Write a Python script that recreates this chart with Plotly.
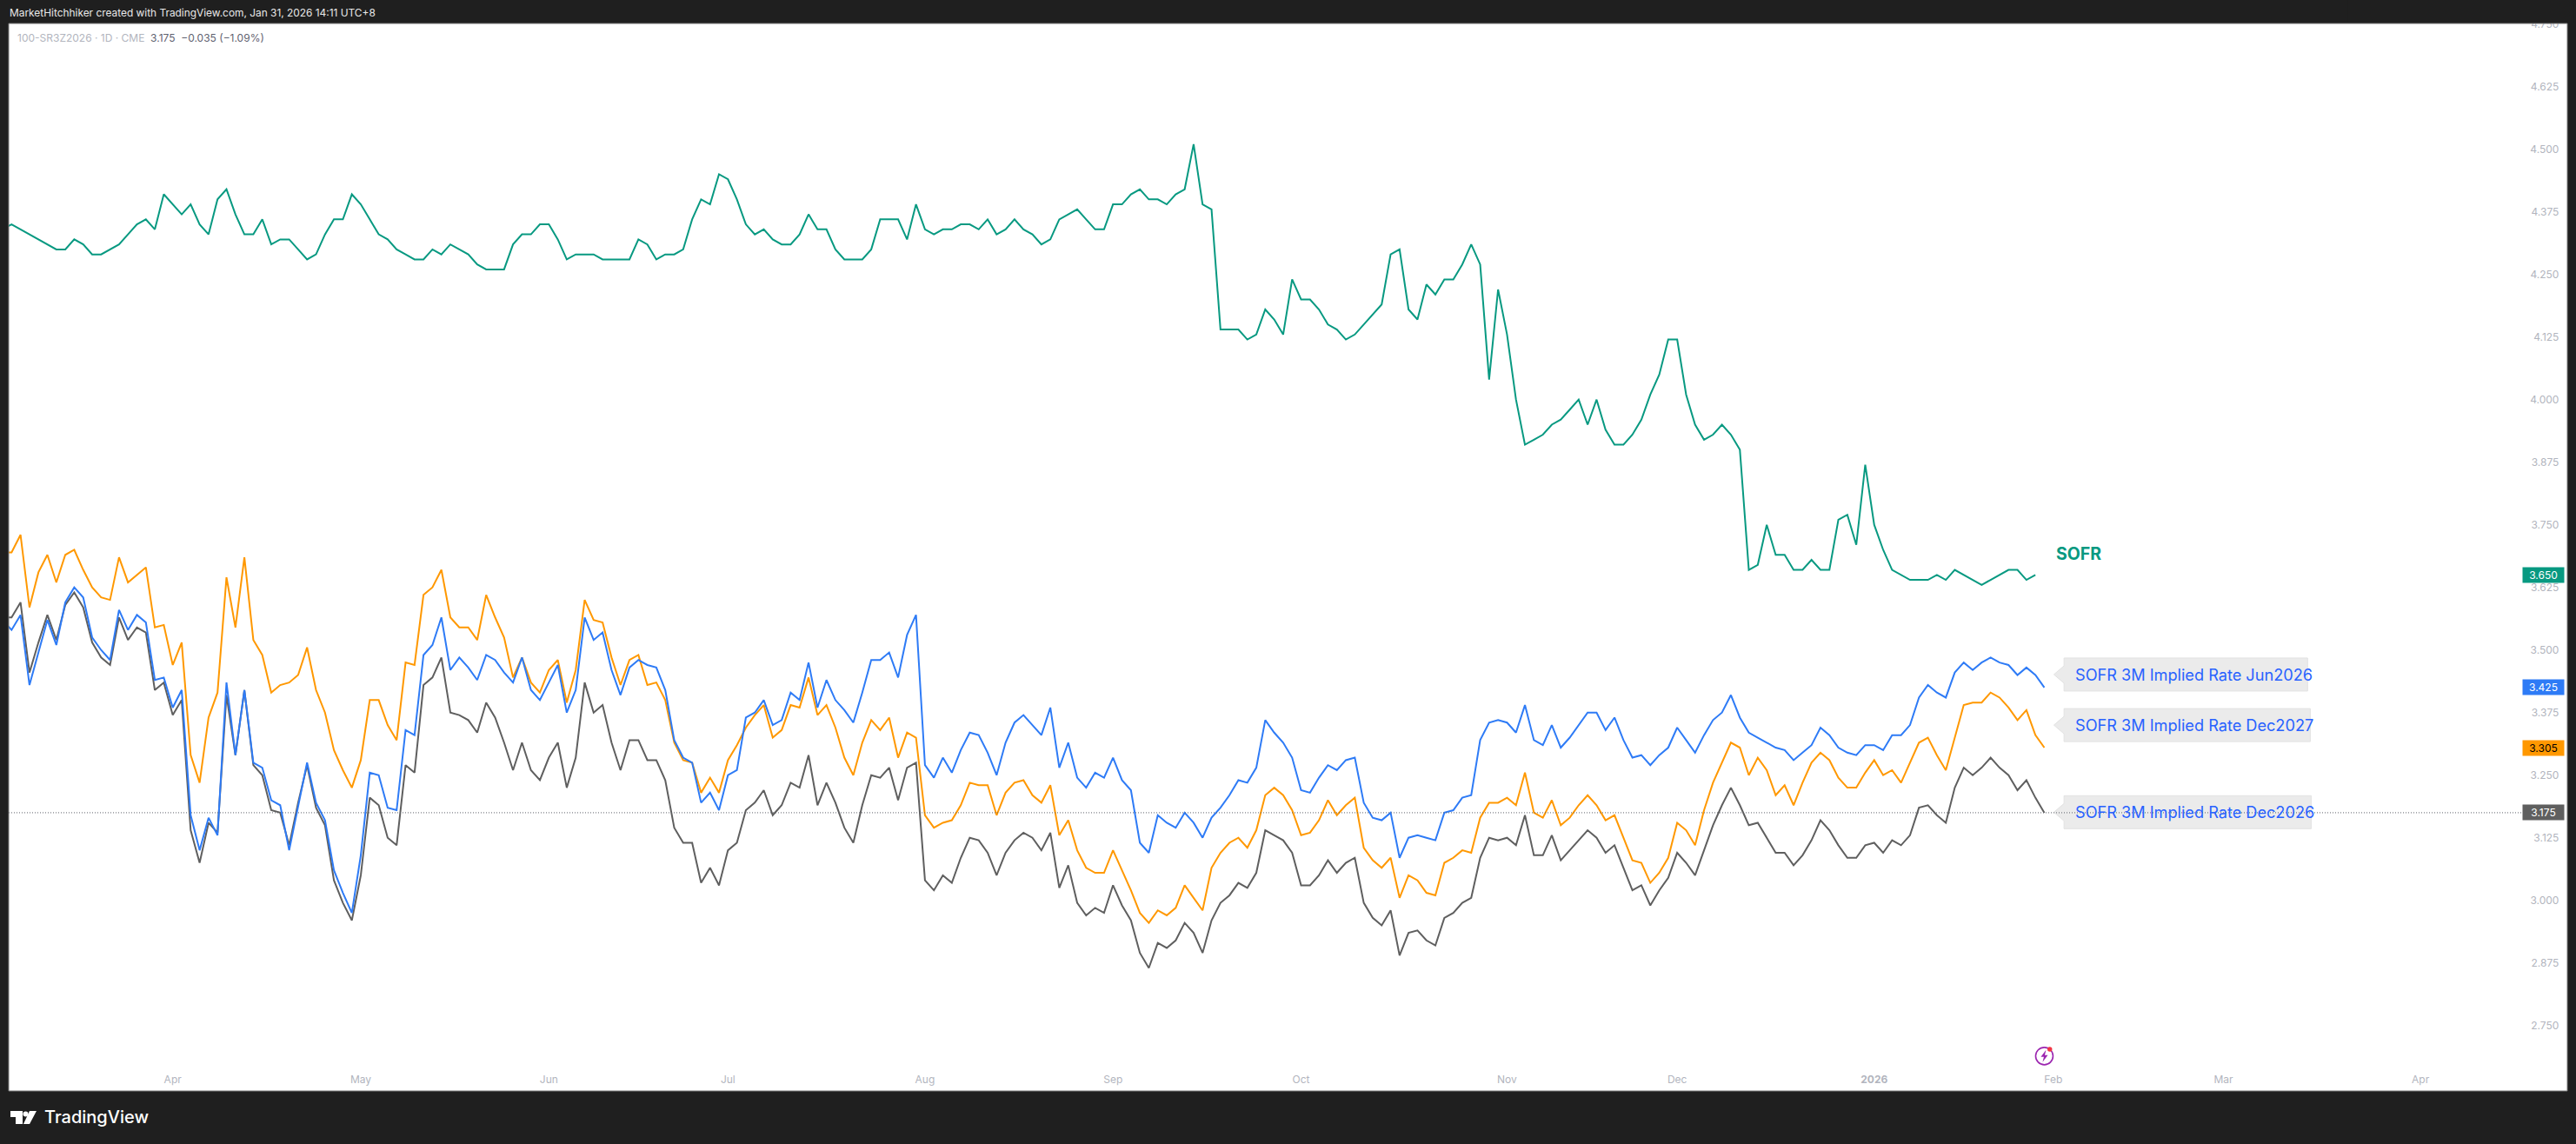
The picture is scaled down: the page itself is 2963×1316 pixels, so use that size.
import pandas as pd
import plotly.graph_objects as go

# ---------- data ----------
jun2026 = [3.56,3.54,3.57,3.43,3.495,3.56,3.51,3.595,3.625,3.605,3.525,3.50,3.48,3.58,3.54,3.57,3.555,3.44,3.445,3.385,3.42,
3.17,3.10,3.165,3.13,3.435,3.29,3.42,3.275,3.265,3.20,3.19,3.10,3.19,3.275,3.195,3.16,3.06,3.015,2.975,3.09,
3.255,3.25,3.185,3.18,3.34,3.33,3.49,3.51,3.565,3.46,3.485,3.465,3.44,3.49,3.48,3.455,3.435,3.485,3.42,3.40,
3.435,3.47,3.375,3.42,3.565,3.52,3.535,3.46,3.41,3.465,3.48,3.47,3.465,3.42,3.32,3.285,3.275,
3.195,3.215,3.18,3.25,3.26,3.365,3.375,3.40,3.35,3.36,3.415,3.40,3.475,3.385,3.44,3.40,3.38,3.355,3.415,3.48,
3.48,3.495,3.445,3.53,3.57,3.27,3.245,3.285,3.255,3.30,3.335,3.33,3.295,3.25,3.315,3.355,3.37,3.35,3.33,3.385,
3.265,3.315,3.245,3.225,3.255,3.245,3.285,3.24,3.22,3.115,3.095,3.17,3.155,3.145,3.175,3.155,3.125,3.165,3.185,3.21,
3.24,3.235,3.265,3.36,3.335,3.315,3.285,3.22,3.215,3.245,3.27,3.26,3.28,3.285,3.195,3.165,3.16,3.175,
3.085,3.125,3.13,3.125,3.12,3.175,3.18,3.205,3.21,3.32,3.355,3.36,3.355,3.335,3.39,3.32,3.31,3.35,3.305,3.325,
3.35,3.375,3.375,3.34,3.365,3.32,3.285,3.29,3.27,3.29,3.305,3.345,3.32,3.295,3.33,3.36,3.375,3.41,3.365,3.335,
3.325,3.315,3.305,3.30,3.28,3.295,3.31,3.345,3.33,3.305,3.295,3.29,3.31,3.31,3.30,3.33,3.33,3.35,3.405,3.43,
3.415,3.405,3.455,3.475,3.46,3.475,3.485,3.475,3.47,3.45,3.465,3.45,3.425]

dec2027 = [3.695,3.695,3.73,3.585,3.655,3.69,3.635,3.69,3.70,3.66,3.625,3.605,3.60,3.685,3.635,3.65,3.665,3.545,3.55,3.47,3.515,
3.29,3.235,3.365,3.415,3.645,3.545,3.685,3.52,3.49,3.415,3.43,3.435,3.45,3.505,3.42,3.375,3.30,3.26,3.225,3.28,
3.40,3.40,3.35,3.32,3.475,3.47,3.61,3.625,3.66,3.565,3.545,3.545,3.52,3.61,3.565,3.525,3.445,3.485,3.435,3.415,
3.46,3.48,3.395,3.46,3.60,3.56,3.555,3.485,3.43,3.48,3.49,3.43,3.435,3.40,3.315,3.28,3.275,
3.215,3.245,3.215,3.28,3.31,3.345,3.37,3.39,3.325,3.34,3.39,3.385,3.445,3.37,3.39,3.345,3.285,3.25,3.315,3.36,
3.34,3.365,3.285,3.335,3.325,3.17,3.145,3.155,3.16,3.19,3.235,3.23,3.23,3.17,3.215,3.235,3.24,3.21,3.195,3.23,
3.13,3.16,3.10,3.065,3.055,3.055,3.10,3.06,3.02,2.975,2.955,2.98,2.97,2.985,3.03,3.005,2.98,3.065,3.095,3.115,
3.125,3.105,3.14,3.21,3.225,3.21,3.18,3.13,3.135,3.16,3.20,3.17,3.19,3.205,3.105,3.08,3.065,3.085,
3.005,3.05,3.04,3.015,3.01,3.075,3.085,3.10,3.095,3.165,3.195,3.195,3.205,3.19,3.255,3.175,3.165,3.20,3.15,3.165,
3.19,3.21,3.19,3.16,3.17,3.125,3.08,3.075,3.035,3.055,3.085,3.155,3.14,3.11,3.18,3.235,3.275,3.315,3.305,3.25,
3.285,3.26,3.21,3.23,3.19,3.235,3.275,3.295,3.28,3.245,3.225,3.225,3.255,3.28,3.25,3.26,3.235,3.275,3.315,3.325,
3.29,3.26,3.325,3.39,3.395,3.395,3.415,3.405,3.385,3.36,3.38,3.33,3.305]

dec2026 = [3.565,3.565,3.595,3.455,3.515,3.57,3.52,3.59,3.615,3.585,3.515,3.485,3.47,3.565,3.52,3.545,3.535,3.42,3.435,3.37,3.40,
3.14,3.075,3.155,3.135,3.41,3.29,3.42,3.27,3.25,3.18,3.175,3.11,3.195,3.27,3.185,3.15,3.04,2.995,2.96,3.05,
3.205,3.19,3.125,3.11,3.27,3.255,3.43,3.445,3.485,3.375,3.37,3.36,3.335,3.395,3.365,3.315,3.26,3.315,3.26,3.24,
3.285,3.315,3.225,3.285,3.435,3.375,3.39,3.315,3.26,3.32,3.32,3.28,3.28,3.24,3.145,3.115,3.115,
3.035,3.065,3.03,3.10,3.115,3.18,3.195,3.22,3.17,3.19,3.235,3.225,3.29,3.19,3.235,3.195,3.145,3.115,3.19,3.25,
3.245,3.265,3.20,3.265,3.275,3.04,3.02,3.05,3.035,3.085,3.125,3.12,3.095,3.05,3.095,3.12,3.135,3.125,3.10,3.135,
3.025,3.07,2.995,2.97,2.985,2.975,3.03,2.99,2.96,2.895,2.865,2.915,2.905,2.92,2.955,2.935,2.895,2.96,2.995,3.01,
3.035,3.025,3.055,3.14,3.13,3.12,3.095,3.03,3.03,3.05,3.08,3.055,3.075,3.085,2.995,2.965,2.95,2.98,
2.89,2.935,2.94,2.92,2.91,2.965,2.975,2.995,3.005,3.085,3.125,3.12,3.125,3.11,3.17,3.09,3.09,3.13,3.08,3.10,
3.12,3.14,3.125,3.095,3.11,3.065,3.02,3.03,2.99,3.02,3.045,3.095,3.075,3.05,3.10,3.15,3.19,3.225,3.19,3.15,
3.155,3.125,3.095,3.095,3.07,3.09,3.12,3.16,3.14,3.11,3.085,3.085,3.11,3.115,3.095,3.12,3.11,3.13,3.185,3.19,
3.17,3.155,3.225,3.265,3.25,3.265,3.285,3.265,3.25,3.22,3.24,3.205,3.175]

sofr = [4.34,4.35,4.34,4.33,4.32,4.31,4.30,4.30,4.32,4.31,4.29,4.29,4.30,4.31,4.33,4.35,4.36,4.34,4.41,4.39,4.37,4.39,4.35,4.33,4.40,4.42,
4.37,4.33,4.33,4.36,4.31,4.32,4.32,4.30,4.28,4.29,4.33,4.36,4.36,4.41,4.39,4.36,4.33,4.32,4.30,4.29,4.28,4.28,4.30,4.29,4.31,
4.30,4.29,4.27,4.26,4.26,4.26,4.31,4.33,4.33,4.35,4.35,4.32,4.28,4.29,4.29,4.29,4.28,4.28,4.28,4.28,4.32,4.31,4.28,4.29,4.29,
4.30,4.36,4.40,4.39,4.45,4.44,4.40,4.35,4.33,4.34,4.32,4.31,4.31,4.33,4.37,4.34,4.34,4.30,4.28,4.28,4.28,
4.30,4.36,4.36,4.36,4.32,4.39,4.34,4.33,4.34,4.34,4.35,4.35,4.34,4.36,4.33,4.34,4.36,4.34,4.33,4.31,
4.32,4.36,4.37,4.38,4.36,4.34,4.34,4.39,4.39,4.41,4.42,4.40,4.40,4.39,4.41,4.42,4.51,4.39,4.38,4.14,
4.14,4.14,4.12,4.13,4.18,4.16,4.13,4.24,4.20,4.20,4.18,4.15,4.14,4.12,4.13,4.15,4.17,4.19,4.29,4.30,
4.18,4.16,4.23,4.21,4.24,4.24,4.27,4.31,4.27,
4.04,4.22,4.13,4.00,3.91,3.92,3.93,3.95,3.96,3.98,4.00,3.95,4.00,3.94,3.91,3.91,3.93,3.96,4.01,4.05,
4.12,4.12,4.01,3.95,3.92,3.93,3.95,3.93,3.90,3.66,3.67,3.75,3.69,3.69,3.66,3.66,3.68,3.66,3.66,3.76,
3.77,3.71,3.87,3.75,3.70,3.66,3.65,3.64,3.64,3.64,3.65,3.64,3.66,3.65,3.64,3.63,3.64,3.65,3.66,3.66,3.64,3.65]

holidays = ["2025-04-18","2025-05-26","2025-06-19","2025-07-04","2025-09-01","2025-11-27",
            "2025-12-25","2026-01-01","2026-01-19","2026-02-16"]
last_date = "2026-01-30"
month_starts = ["2025-04-01","2025-05-01","2025-06-02","2025-07-01","2025-08-01","2025-09-02","2025-10-01",
                "2025-11-03","2025-12-01","2026-01-02","2026-02-02","2026-03-02","2026-04-01"]
month_labels = ["Apr","May","Jun","Jul","Aug","Sep","Oct","Nov","Dec","<b>2026</b>","Feb","Mar","Apr"]
price_ticks = [2.75,2.875,3.0,3.125,3.25,3.375,3.5,3.625,3.75,3.875,4.0,4.125,4.25,4.375,4.5,4.625,4.75]

callout_names = ["SOFR 3M Implied Rate Jun2026","SOFR 3M Implied Rate Dec2027","SOFR 3M Implied Rate Dec2026"]
callout_levels = [3.451,3.35,3.176]
callout_bars = [27.2,27.5,27.6]

price_tags = [("3.650",3.65,"#089981","#ffffff"),("3.425",3.425,"#2E7BF6","#ffffff"),
              ("3.305",3.305,"#FF9800","#000000"),("3.175",3.175,"#5f5f5f","#ffffff")]

# ---------- calendar: trading-day index ----------
cal = pd.bdate_range("2025-01-02","2026-04-30")
cal = cal[~cal.isin(pd.to_datetime(holidays))]
last_bar = 227
offset = cal.get_loc(pd.Timestamp(last_date)) - last_bar
tick_bars = [cal.get_loc(pd.Timestamp(d)) - offset for d in month_starts]

# ---------- layout helpers ----------
W,H = 2963,1316
L,R,T,B = 10,2952.7,27,1255
BG = "#1f1f1f"
def pxx(x): return (x-L)/(R-L)
def pxy(y): return (B-y)/(B-T)
TICK = "#b2b5be"
FONT = "Inter, Roboto, sans-serif"

fig = go.Figure()
def add(vals,color,end=last_bar,width=2):
    fig.add_trace(go.Scatter(x=list(range(end-len(vals)+1,end+1)),y=vals,mode="lines",
                             line=dict(color=color,width=width),hoverinfo="skip",showlegend=False))
add(dec2026,"#5f5f5f")
add(dec2027,"#FF9800")
add(jun2026,"#2E7BF6")
add(sofr,"#089981",end=last_bar-1)

shapes=[]
ann=[]
# callouts
hh=19/576; ah=10/576
for name,lv,wd in zip(callout_names,callout_levels,callout_bars):
    x0=last_bar+1.07; x1=x0+1.13; x2=x1+wd
    shapes.append(dict(type="path",xref="x",yref="y",layer="below",fillcolor="#ebebeb",
        line=dict(color="#e2e2e2",width=1),
        path=f"M{x0},{lv} L{x1},{lv+ah} L{x1},{lv+hh} L{x2},{lv+hh} L{x2},{lv-hh} L{x1},{lv-hh} L{x1},{lv-ah} Z"))
    ann.append(dict(x=x1+1.1,y=lv,xref="x",yref="y",xanchor="left",yanchor="middle",showarrow=False,
                    text=name,font=dict(family=FONT,size=18.15,color="#2962FF")))
# last-price dotted line
shapes.append(dict(type="line",xref="paper",yref="y",x0=0,x1=pxx(2902),y0=3.175,y1=3.175,
                   line=dict(color="#5d606b",width=1,dash="1px,2px")))
# masks + frame
shapes.append(dict(type="rect",xref="paper",yref="paper",layer="above",x0=pxx(2700),x1=pxx(2960),y0=1,y1=pxy(0),
                   fillcolor=BG,line=dict(width=0)))
shapes.append(dict(type="rect",xref="paper",yref="paper",layer="above",x0=0,x1=1,y0=0,y1=1,
                   line=dict(color="#7a7a7a",width=1)))
# logo
shapes.append(dict(type="path",xref="paper",yref="paper",fillcolor="#ffffff",line=dict(width=0),
    path=f"M{pxx(12)},{pxy(1278)} L{pxx(26)},{pxy(1278)} L{pxx(26)},{pxy(1293)} L{pxx(18)},{pxy(1293)} L{pxx(18)},{pxy(1285)} L{pxx(12)},{pxy(1285)} Z"))
shapes.append(dict(type="circle",xref="paper",yref="paper",fillcolor="#ffffff",line=dict(width=0),
    x0=pxx(26.5),x1=pxx(32.5),y0=pxy(1284.5),y1=pxy(1278.5)))
shapes.append(dict(type="path",xref="paper",yref="paper",fillcolor="#ffffff",line=dict(width=0),
    path=f"M{pxx(34)},{pxy(1278)} L{pxx(42)},{pxy(1278)} L{pxx(34)},{pxy(1293)} L{pxx(27)},{pxy(1293)} Z"))
# bolt icon at the next session
bx,by=last_bar,2.689
common=dict(xref="x",yref="y",xsizemode="pixel",ysizemode="pixel",xanchor=bx,yanchor=by)
shapes.append(dict(type="circle",x0=-10,x1=10,y0=-10,y1=10,line=dict(color="#9C27B0",width=1.6),**common))
shapes.append(dict(type="path",fillcolor="#9C27B0",line=dict(width=0),
    path="M2,7 L-4,-1 L-0.5,-1 L-2,-7 L4,1 L0.5,1 Z",**common))
shapes.append(dict(type="circle",x0=3.5,x1=9,y0=5,y1=10.5,fillcolor="#F23645",line=dict(width=0),**common))

# texts
ann.append(dict(xref="paper",yref="paper",x=pxx(9),y=pxy(14),xanchor="left",yanchor="middle",showarrow=False,
    text="MarketHitchhiker created with TradingView.com, Jan 31, 2026 14:11 UTC+8",
    font=dict(family=FONT,size=11.9,color="#e8e8e8")))
ann.append(dict(xref="paper",yref="paper",x=pxx(18),y=pxy(43),xanchor="left",yanchor="middle",showarrow=False,
    text='<span style="color:#b2b5be">100-SR3Z2026 · 1D · CME</span>  <span style="color:#5f6270">3.175  −0.035 (−1.09%)</span>',
    font=dict(family=FONT,size=12,color="#5f6270")))
ann.append(dict(xref="paper",yref="paper",x=pxx(49),y=pxy(1285),xanchor="left",yanchor="middle",showarrow=False,
    text="TradingView",font=dict(family=FONT,size=20,color="#ffffff",weight=500)))
ann.append(dict(xref="paper",yref="paper",x=pxx(2363),y=pxy(637),xanchor="left",yanchor="middle",showarrow=False,
    text="<b>SOFR</b>",font=dict(family=FONT,size=19.5,color="#089981")))
for txt,v,bg,fg in price_tags:
    ann.append(dict(xref="paper",yref="y",x=pxx(2925.5),y=v,xanchor="center",yanchor="middle",showarrow=False,
        text=txt,width=47,height=17,bgcolor=bg,borderpad=0,font=dict(family=FONT,size=12,color=fg)))

fig.update_layout(
    width=W,height=H,margin=dict(l=L,r=W-R,t=T,b=H-B,autoexpand=False),
    paper_bgcolor=BG,plot_bgcolor="#ffffff",showlegend=False,shapes=shapes,annotations=ann,
    xaxis=dict(range=[-0.32,285.4],tickmode="array",tickvals=tick_bars,ticktext=month_labels,showgrid=False,
               zeroline=False,showline=False,ticks="inside",ticklen=6,tickcolor="rgba(0,0,0,0)",
               ticklabelposition="inside",ticklabeloverflow="allow",
               tickfont=dict(family=FONT,size=12,color=TICK),fixedrange=True),
    yaxis=dict(range=[2.6193,4.7512],side="right",tickmode="array",tickvals=price_ticks,tickformat=".3f",showgrid=False,
               zeroline=False,showline=False,ticks="inside",ticklen=9,tickcolor="rgba(0,0,0,0)",
               ticklabelposition="inside",ticklabeloverflow="allow",
               tickfont=dict(family=FONT,size=12,color=TICK),fixedrange=True),
)
fig.write_html("out.html",config=dict(displayModeBar=False),
               post_script="document.body.style.margin='0';document.body.style.background='#1f1f1f';document.documentElement.style.overflow='hidden';")
